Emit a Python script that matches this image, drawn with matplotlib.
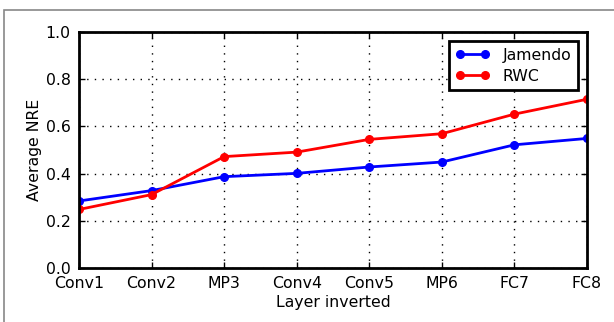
import matplotlib
matplotlib.use("Agg")
import matplotlib.pyplot as plt
from matplotlib.patches import Rectangle

layers = ["Conv1", "Conv2", "MP3", "Conv4", "Conv5", "MP6", "FC7", "FC8"]
jamendo = [0.284, 0.328, 0.387, 0.401, 0.428, 0.449, 0.522, 0.549]
rwc = [0.248, 0.311, 0.472, 0.491, 0.545, 0.569, 0.652, 0.715]

plt.rcParams['font.family'] = ['DejaVu Sans']
fig = plt.figure(figsize=(6.14, 3.22), dpi=100)
fig.patch.set_facecolor('white')
ax = fig.add_axes([79/614, 1-268/322, (587-79)/614, (268-32)/322])

x = list(range(len(layers)))
ax.plot(x, jamendo, color='blue', lw=2, marker='o', ms=5.5, mec='blue', label='Jamendo')
ax.plot(x, rwc, color='red', lw=2, marker='o', ms=5.5, mec='red', label='RWC')

fs = 11.3
ax.set_xlim(0, len(layers)-1)
ax.set_ylim(0, 1.0)
ax.set_xticks(x)
ax.set_xticklabels(layers, fontsize=fs)
ax.set_yticks([0.0, 0.2, 0.4, 0.6, 0.8, 1.0])
ax.set_yticklabels(["0.0", "0.2", "0.4", "0.6", "0.8", "1.0"], fontsize=fs)
ax.tick_params(direction='in', top=True, right=True, length=4, width=1, pad=6)
ax.grid(True, color='black', linestyle=(0, (1, 4.5)), linewidth=1)
for s in ax.spines.values():
    s.set_linewidth(2)
ax.set_xlabel("Layer inverted", fontsize=fs, labelpad=3)
ax.set_ylabel("Average NRE", fontsize=fs, labelpad=3)

leg = ax.legend(loc='upper right', fontsize=fs, numpoints=2, fancybox=False,
                framealpha=1, edgecolor='black', borderaxespad=0.6,
                handlelength=2.2, borderpad=0.4, labelspacing=0.4)
leg.get_frame().set_linewidth(2)

fig.patches.append(Rectangle((4/614, -0.1), 1.2, 1-10/322+0.1, transform=fig.transFigure,
                             fill=False, edgecolor='#888888', linewidth=1.2))

fig.savefig("out.png", dpi=100)
